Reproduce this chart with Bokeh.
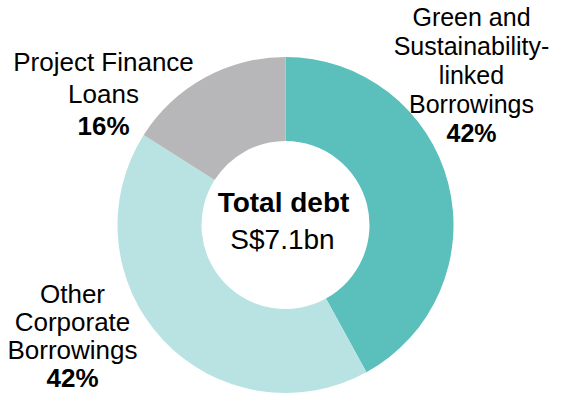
from bokeh.plotting import figure
from bokeh.models import Range1d, ColumnDataSource
from bokeh.core.properties import value
from bokeh.embed import file_html
from bokeh.resources import INLINE
import numpy as np

# ---- data ----
categories = ["Green and\nSustainability-\nlinked\nBorrowings",
              "Other\nCorporate\nBorrowings",
              "Project Finance\nLoans"]
shares = [42, 42, 16]
colors = ["#5BBFBB", "#B9E3E2", "#B7B7B9"]
center_title = "Total debt"
center_value = "S$7.1bn"

# ---- layout (screen-pixel based coordinates, y measured from top) ----
W, H = 549, 393
FONT = "Liberation Sans"
BASE_SHIFT = 0.38  # em offset correcting the rendered baseline position


def fy(Y, fs=0):
    return H - (Y - BASE_SHIFT * fs)


CX, CY = 285, fy(224.5)
R_OUT, R_IN = 168, 84
# label block: (center x, first-line baseline, line spacing, font size px)
label_layout = [(471, 26.0, 29.0, 25),
                (72, 303.0, 28.0, 26),
                (103, 71.7, 31.6, 26)]

p = figure(width=W, height=H, output_backend="svg", toolbar_location=None,
           x_range=Range1d(0, W), y_range=Range1d(0, H),
           min_border=0, min_border_left=0, min_border_right=0,
           min_border_top=0, min_border_bottom=0,
           x_axis_location=None, y_axis_location=None)
p.grid.visible = False
p.outline_line_color = None
p.background_fill_color = "white"
p.border_fill_color = "white"

total = float(sum(shares))
fr = np.array(shares) / total
ends = np.cumsum(fr) * 2 * np.pi
starts = np.concatenate([[0], ends[:-1]])
start_angle = np.pi / 2 - starts
end_angle = np.pi / 2 - ends

src = ColumnDataSource(dict(start=start_angle, end=end_angle, color=colors))
p.annular_wedge(x=CX, y=CY, inner_radius=R_IN, outer_radius=R_OUT,
                start_angle="start", end_angle="end", direction="clock",
                fill_color="color", line_color=None, source=src)

# slice labels
for cat, sh, (lx, ly, sp, fs) in zip(categories, shares, label_layout):
    lines = cat.split("\n")
    ys = [fy(ly + i * sp, fs) for i in range(len(lines))]
    p.text(x=[lx] * len(lines), y=ys, text=lines, text_align="center",
           text_baseline="alphabetic", text_font=value(FONT),
           text_font_size=f"{fs}px", text_color="black")
    p.text(x=[lx], y=[fy(ly + len(lines) * sp, fs)], text=[f"{sh}%"],
           text_align="center", text_baseline="alphabetic",
           text_font=value(FONT), text_font_size=f"{fs}px",
           text_font_style="bold", text_color="black")

# center text
p.text(x=[283], y=[fy(213, 28)], text=[center_title], text_align="center",
       text_baseline="alphabetic", text_font=value(FONT),
       text_font_size="28px", text_font_style="bold", text_color="black")
p.text(x=[282], y=[fy(250, 28)], text=[center_value], text_align="center",
       text_baseline="alphabetic", text_font=value(FONT),
       text_font_size="28px", text_color="black")

open("out.html", "w").write(file_html(p, INLINE))
